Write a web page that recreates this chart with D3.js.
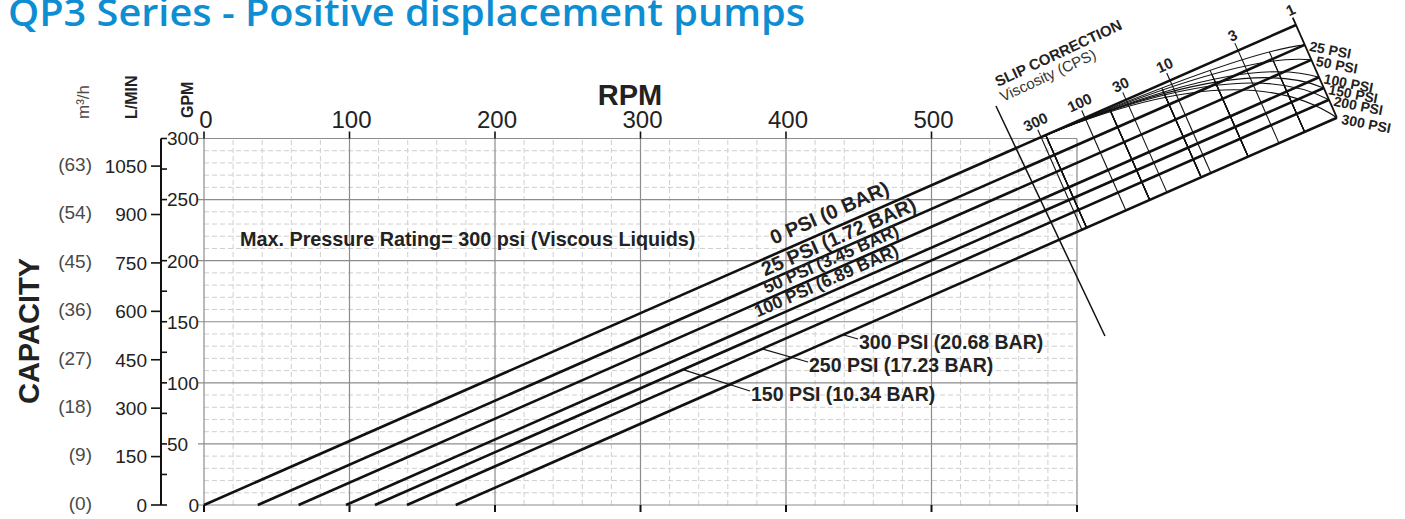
<!DOCTYPE html>
<html>
<head>
<meta charset="utf-8">
<script src="https://cdn.jsdelivr.net/npm/d3@7"></script>
<style>
  body { margin: 0; background: #fff; }
  svg { display: block; }
  text { font-family: "Liberation Sans", Arial, Helvetica, sans-serif; fill: #222; }
</style>
</head>
<body>
<svg id="chart" width="1405" height="519"></svg>
<script>
// ---- performance data -------------------------------------------------
const rpmTicks = [0, 100, 200, 300, 400, 500, 600];
const rpmLabels = ["0", "100", "200", "300", "400", "500"];
const gpmTicks = [0, 50, 100, 150, 200, 250, 300];
const gpmMinorTicks = [25, 75, 125, 175, 275];
const lpmTicks = [0, 150, 300, 450, 600, 750, 900, 1050];
const m3hLabels = ["(0)", "(9)", "(18)", "(27)", "(36)", "(45)", "(54)", "(63)"];
const GPM_PER_LPM = 1 / 3.785;

// displacement and slip per differential pressure
const gpmPerRev = 0.5235;
const pressurePsi = [0, 25, 50, 100, 150, 200, 300];
const slipRpm = [0, 37, 65, 97.6, 117.5, 139.5, 173];

// inline labels along the first four lines
const inlineLabels = ["0 PSI (0 BAR)", "25 PSI (1.72 BAR)", "50 PSI (3.45 BAR)", "100 PSI (6.89 BAR)"];
// labels with leader lines for the three highest pressures
const leaderLabels = ["150 PSI (10.34 BAR)", "250 PSI (17.23 BAR)", "300 PSI (20.68 BAR)"];
// pressure labels on the viscosity = 1 edge of the slip nomogram
const edgeLabels = ["25 PSI", "50 PSI", "100 PSI", "150 PSI", "200 PSI", "300 PSI"];

// slip correction nomogram (viscosity scale measured in RPM along the 0 PSI line)
const viscosityCps = [300, 100, 30, 10, 3, 1];
const viscosityRpm = [575.3, 605.5, 633.7, 663.9, 710.7, 750.5];
const viscLineRun = 0.3705;                 // RPM gained per GPM drop along a viscosity line
const convergenceRpm = 569.5;               // all slip curves meet the 0 PSI line here
const curveControl = [712, 370.8];          // shared bend point of the slip curves (RPM, GPM)
const slipAxis = [[544.3, 326.6], [619.2, 138.3]]; // "slip correction" reference line

// ---- scales -----------------------------------------------------------
const svg = d3.select("#chart");
const x = d3.scaleLinear().domain([0, 600]).range([204, 1077]);
const y = d3.scaleLinear().domain([0, 300]).range([505, 138.5]);
const P = (r, g) => [x(r), y(g)];
const k = gpmPerRev;
const lineGpm = (r, s) => k * (r - s);
const angle = Math.atan2(y(k * 100) - y(0), x(100) - x(0)) * 180 / Math.PI;

// ---- title --------------------------------------------------------------
svg.append("text")
  .attr("x", 8).attr("y", 25.5)
  .attr("textLength", 797).attr("lengthAdjust", "spacingAndGlyphs")
  .style("font-family", "'Open Sans', sans-serif")
  .style("font-weight", 600).style("font-size", "38px")
  .style("fill", "#0e8ed2")
  .text("QP3 Series - Positive displacement pumps");

// ---- grid -------------------------------------------------------------
const grid = svg.append("g");
grid.selectAll(".vmin").data(d3.range(20, 600, 20).filter(d => d % 100 !== 0)).join("line")
  .attr("x1", d => x(d)).attr("x2", d => x(d)).attr("y1", y(0)).attr("y2", y(300))
  .attr("stroke", "#cfcfcf").attr("stroke-dasharray", "5,3").attr("stroke-width", 1);
grid.selectAll(".hmin").data(d3.range(10, 300, 10).filter(d => d % 50 !== 0)).join("line")
  .attr("x1", x(0)).attr("x2", x(600)).attr("y1", d => y(d)).attr("y2", d => y(d))
  .attr("stroke", "#cfcfcf").attr("stroke-dasharray", "5,3").attr("stroke-width", 1);
grid.selectAll(".vmaj").data(rpmTicks).join("line")
  .attr("x1", d => x(d)).attr("x2", d => x(d)).attr("y1", y(0)).attr("y2", y(300))
  .attr("stroke", "#8c8c8c").attr("stroke-width", 1.2);
grid.selectAll(".hmaj").data(gpmTicks).join("line")
  .attr("x1", x(0) - 6).attr("x2", x(600)).attr("y1", d => y(d)).attr("y2", d => y(d))
  .attr("stroke", "#8c8c8c").attr("stroke-width", 1.2);

// ---- RPM axis (top labels, top and bottom ticks) --------------------------
svg.selectAll(".ttick").data(rpmTicks.slice(0, 6)).join("line")
  .attr("x1", d => x(d)).attr("x2", d => x(d)).attr("y1", y(300)).attr("y2", y(300) - 7)
  .attr("stroke", "#111").attr("stroke-width", 1.6);
svg.selectAll(".btick").data(rpmTicks).join("line")
  .attr("x1", d => x(d)).attr("x2", d => x(d)).attr("y1", y(0)).attr("y2", y(0) + 7)
  .attr("stroke", "#111").attr("stroke-width", 2);
svg.selectAll(".rpmlab").data(rpmLabels).join("text")
  .attr("x", (d, i) => x(rpmTicks[i]) + 2).attr("y", 128)
  .attr("text-anchor", "middle").style("font-size", "24px").style("fill", "#222")
  .text(d => d);
svg.append("text").attr("x", 630).attr("y", 105).attr("text-anchor", "middle")
  .style("font-size", "29px").style("font-weight", "bold").text("RPM");

// ---- capacity axes --------------------------------------------------------
const axX = 161;
svg.append("line").attr("x1", axX).attr("x2", axX).attr("y1", y(0)).attr("y2", y(300))
  .attr("stroke", "#111").attr("stroke-width", 2);
svg.selectAll(".gtick").data(gpmTicks).join("line")
  .attr("x1", axX).attr("x2", axX + 6).attr("y1", d => y(d)).attr("y2", d => y(d))
  .attr("stroke", "#111").attr("stroke-width", 1.6);
svg.selectAll(".gmtick").data(gpmMinorTicks).join("line")
  .attr("x1", axX).attr("x2", axX + 6).attr("y1", d => y(d)).attr("y2", d => y(d))
  .attr("stroke", "#111").attr("stroke-width", 1.6);
svg.selectAll(".glab").data(gpmTicks).join("text")
  .attr("x", d => d === 0 ? x(0) - 5 : axX + 6).attr("y", d => y(d))
  .attr("text-anchor", d => d === 0 ? "end" : "start")
  .attr("dy", "0.36em").style("font-size", "19px").text(d => d);
svg.selectAll(".ltick").data(lpmTicks).join("line")
  .attr("x1", axX - 10).attr("x2", axX).attr("y1", d => y(d * GPM_PER_LPM)).attr("y2", d => y(d * GPM_PER_LPM))
  .attr("stroke", "#111").attr("stroke-width", 1.6);
svg.selectAll(".llab").data(lpmTicks).join("text")
  .attr("x", 147).attr("y", d => y(d * GPM_PER_LPM)).attr("dy", "0.36em")
  .attr("text-anchor", "end").style("font-size", "19px").text(d => d);
svg.selectAll(".mlab").data(m3hLabels).join("text")
  .attr("x", 92).attr("y", (d, i) => y(lpmTicks[i] * GPM_PER_LPM) - 2).attr("dy", "0.36em")
  .attr("text-anchor", "end").style("font-size", "19px").style("fill", "#4a4a4a").text(d => d);

const vlab = (tx, ty, txt, size, weight, fill) => svg.append("text")
  .attr("transform", `translate(${tx},${ty}) rotate(-90)`)
  .style("font-size", size).style("font-weight", weight).style("fill", fill).text(txt);
vlab(89, 119, "m³/h", "17px", "normal", "#4a4a4a");
vlab(137, 119, "L/MIN", "16px", "bold", "#222");
vlab(193, 118, "GPM", "16px", "bold", "#222");
svg.append("text").attr("transform", "translate(39,331) rotate(-90)")
  .attr("text-anchor", "middle").style("font-size", "29px").style("font-weight", "bold")
  .text("CAPACITY");

svg.append("text").attr("x", 240).attr("y", 246)
  .style("font-size", "19.8px").style("font-weight", "bold")
  .text("Max. Pressure Rating= 300 psi (Viscous Liquids)");

// ---- slip nomogram geometry ------------------------------------------------
const visc1Rpm = viscosityRpm[viscosityRpm.length - 1];
const edgeA = visc1Rpm + viscLineRun * k * visc1Rpm;
const edgePoint = s => { const g = k * (edgeA - s) / (1 + viscLineRun * k); return [s + g / k, g]; };
const dropTo = (p, s) => { const g = k * (p[0] + viscLineRun * p[1] - s) / (1 + viscLineRun * k); return [s + g / k, g]; };
const conv = [convergenceRpm, k * convergenceRpm];
const bez = (t, end) => [0, 1].map(c =>
  (1 - t) * (1 - t) * conv[c] + 2 * t * (1 - t) * curveControl[c] + t * t * end[c]);
const ends = slipRpm.map(edgePoint);
const lowS = slipRpm[slipRpm.length - 1];
const tickUp = 6;

const nomo = svg.append("g");
// viscosity lines, one per pressure curve
const viscSegs = [];
viscosityRpm.slice(0, -1).forEach(vr => {
  const t = (vr - convergenceRpm) / (visc1Rpm - convergenceRpm);
  slipRpm.forEach((s, i) => {
    let a = i === 0 ? [vr, k * vr] : bez(t, ends[i]);
    const b = dropTo(a, lowS);
    if (i === 0) a = [a[0] - viscLineRun * tickUp, a[1] + tickUp];
    viscSegs.push([a, b]);
  });
});
nomo.selectAll(".vseg").data(viscSegs).join("line")
  .attr("x1", d => x(d[0][0])).attr("y1", d => y(d[0][1]))
  .attr("x2", d => x(d[1][0])).attr("y2", d => y(d[1][1]))
  .attr("stroke", "#111").attr("stroke-width", 1.1);

// slip curves
nomo.selectAll(".curve").data(ends.slice(1)).join("path")
  .attr("d", e => {
    const p = d3.path();
    p.moveTo(...P(...conv));
    p.quadraticCurveTo(...P(...curveControl), ...P(...e));
    return p.toString();
  })
  .attr("fill", "none").attr("stroke", "#111").attr("stroke-width", 1.1);

// viscosity = 1 edge
const edgeTop = [visc1Rpm - viscLineRun * tickUp, k * visc1Rpm + tickUp];
nomo.append("line")
  .attr("x1", x(edgeTop[0])).attr("y1", y(edgeTop[1]))
  .attr("x2", x(ends[ends.length - 1][0])).attr("y2", y(ends[ends.length - 1][1]))
  .attr("stroke", "#111").attr("stroke-width", 1.8);

// slip correction reference line
nomo.append("line")
  .attr("x1", x(slipAxis[0][0])).attr("y1", y(slipAxis[0][1]))
  .attr("x2", x(slipAxis[1][0])).attr("y2", y(slipAxis[1][1]))
  .attr("stroke", "#111").attr("stroke-width", 1.5);

// ---- pressure lines ------------------------------------------------------
svg.selectAll(".pline").data(slipRpm).join("line")
  .attr("x1", s => x(s)).attr("y1", y(0))
  .attr("x2", (s, i) => x(ends[i][0])).attr("y2", (s, i) => y(ends[i][1]))
  .attr("stroke", "#111").attr("stroke-width", 2.6);

// viscosity scale labels
const vTop = viscosityRpm.map(vr => [vr - viscLineRun * tickUp, k * vr + tickUp]);
nomo.selectAll(".vlab").data(viscosityCps).join("text")
  .attr("transform", (d, i) => `translate(${x(vTop[i][0])},${y(vTop[i][1]) - 3}) rotate(-25)`)
  .attr("text-anchor", "middle").style("font-size", "15px").style("font-weight", "bold")
  .text(d => d);
svg.append("text").attr("transform", "translate(998,87) rotate(-25)")
  .style("font-size", "15px").style("font-weight", "bold").text("SLIP CORRECTION");
svg.append("text").attr("transform", "translate(1003,102) rotate(-25)")
  .style("font-size", "15px").style("fill", "#333").text("Viscosity (CPS)");

// pressure labels at the edge
svg.selectAll(".elab").data(edgeLabels).join("text")
  .attr("transform", (d, i) => { const e = ends[i + 1]; return `translate(${x(e[0]) + 4},${y(e[1]) + 6}) rotate(11)`; })
  .style("font-size", "14px").style("font-weight", "bold").text(d => d);

// inline line labels
const inlineRpm = [394, 387, 388, 382];
const inlineOff = [-9, -5, -5, -6];
const inlineSize = ["20px", "20px", "17.5px", "17.5px"];
svg.selectAll(".ilab").data(inlineLabels).join("text")
  .attr("transform", (d, i) => `translate(${x(inlineRpm[i])},${y(lineGpm(inlineRpm[i], slipRpm[i]))}) rotate(${angle})`)
  .attr("dy", (d, i) => inlineOff[i])
  .style("font-size", (d, i) => inlineSize[i]).style("font-weight", "bold")
  .text(d => d);

// leader labels (150, 200 and 300 PSI lines)
const leaderLine = [4, 5, 6];
const leaderFrom = [329.2, 383.5, 439.2];
const leaderTo = [[750, 391], [808, 362], [858, 339]];
leaderLabels.forEach((t, j) => {
  const s = slipRpm[leaderLine[j]];
  svg.append("line")
    .attr("x1", x(leaderFrom[j])).attr("y1", y(lineGpm(leaderFrom[j], s)))
    .attr("x2", leaderTo[j][0]).attr("y2", leaderTo[j][1])
    .attr("stroke", "#111").attr("stroke-width", 1.2);
  svg.append("text").attr("x", leaderTo[j][0] + 1).attr("y", leaderTo[j][1] + 10)
    .style("font-size", "19.5px").style("font-weight", "bold").text(t);
});
</script>
</body>
</html>
